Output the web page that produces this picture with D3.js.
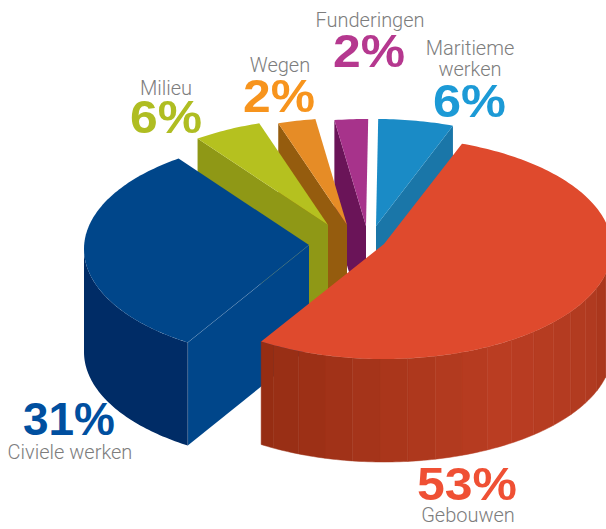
<!DOCTYPE html>
<html>
<head>
<meta charset="utf-8">
<script src="https://cdn.jsdelivr.net/npm/d3@7"></script>
<style>
html,body{margin:0;padding:0;background:#fff}
svg{display:block}
text{font-family:"Liberation Sans",Arial,sans-serif}
text.name{font-family:Roboto,"Liberation Sans",sans-serif;font-weight:300}
</style>
</head>
<body>
<div id="chart"></div>
<script>
// Data: slice order runs clockwise from the Gebouwen start edge
const categories = ["Gebouwen", "Civiele werken", "Milieu", "Wegen", "Funderingen", "Maritieme werken"];
const percentLabels = [53, 31, 6, 2, 2, 6];
// sweep of each slice as drawn (percent of the circle)
const drawnShares = [53.5, 31.1, 4.9, 2.7, 2.4, 5.4];
const topColors  = ["#df4a2d", "#00468a", "#b5c11f", "#e68c26", "#a7338b", "#1a8bc6"];
const faceColors = ["#a63517", "#00468a", "#8f9816", "#955c0e", "#6a1458", "#1a76a8"];
const wallColors = ["#b93c22", "#002c66", "#8f9816", "#955c0e", "#6a1458", "#1a76a8"];
const textColors = ["#ef5034", "#004f9f", "#afbd22", "#f7941d", "#b5388f", "#1c9ad6"];

// Layout (not data)
const W = 606, H = 529;
const RX = [228, 225, 225, 225, 225, 225];
const RY = 111, DEPTH = 103, APEX_LIFT = 4;
const centers = [[384,248],[309,249],[328,229],[347,229],[366,230],[376,230]];
const START_DEG = 20;
const NAME_SIZE = 20, PCT_SIZE = 47;
const labelPos = [
  {pct:[467,500], w:100, name:[["Gebouwen",468,522]]},
  {pct:[69,435],  w:92,  name:[["Civiele werken",70,459]]},
  {pct:[166,133], w:72,  name:[["Milieu",166,95]]},
  {pct:[279,112], w:72,  name:[["Wegen",280,72]]},
  {pct:[369,67],  w:72,  name:[["Funderingen",370,27]]},
  {pct:[469.5,117], w:73, name:[["Maritieme",470,55],["werken",470,76]]}
];

const rad = d => d * Math.PI / 180;
const pie = d3.pie().sort(null).value(d => d)
  .startAngle(rad(START_DEG)).endAngle(rad(START_DEG + 360));
const arcs = pie(drawnShares);

const svg = d3.select("#chart").append("svg").attr("width", W).attr("height", H);
const line = d3.line();

function project(i, t, dz) {
  const [cx, cy] = centers[i];
  return [cx + RX[i] * Math.sin(t), cy - RY * Math.cos(t) + (dz || 0)];
}
function apex(i, dz) {
  const [cx, cy] = centers[i];
  return [cx, cy - APEX_LIFT + (dz || 0)];
}
function arcPts(i, a, b, dz) {
  const n = Math.max(2, Math.ceil(Math.abs(b - a) / rad(1)));
  return d3.range(n + 1).map(k => project(i, a + (b - a) * k / n, dz));
}
const poly = pts => line(pts) + "Z";

// red wall banding along the rim
const redShade = d3.scaleLinear()
  .domain([rad(95), rad(115), rad(150), rad(212)])
  .range(["#a33317", "#b03a20", "#ba3d22", "#952d13"]);

// paint back to front
[5, 4, 3, 2, 1, 0].forEach(i => {
  const g = svg.append("g");
  const t0 = arcs[i].startAngle, t1 = arcs[i].endAngle;

  // cut faces
  if (Math.sin(t0) < -0.01) {
    const p = project(i, t0);
    g.append("path")
      .attr("d", poly([p, apex(i), apex(i, DEPTH), project(i, t0, DEPTH)]))
      .attr("fill", faceColors[i]);
  }
  if (Math.sin(t1) > 0.05) {
    const p = project(i, t1);
    g.append("path")
      .attr("d", poly([p, apex(i), apex(i, DEPTH), project(i, t1, DEPTH)]))
      .attr("fill", faceColors[i]);
  }

  // outer wall: the part of the rim facing the viewer
  const a = Math.max(t0, rad(90)), b = Math.min(t1, rad(270));
  if (b > a) {
    if (i === 0) {
      const step = rad(7);
      d3.range(a, b, step).forEach(s => {
        const e = Math.min(s + step, b);
        g.append("path")
          .attr("d", poly(arcPts(i, s, e).concat(arcPts(i, e, s, DEPTH))))
          .attr("fill", redShade((s + e) / 2))
          .attr("stroke", redShade((s + e) / 2))
          .attr("stroke-width", 0.5);
      });
    } else {
      g.append("path")
        .attr("d", poly(arcPts(i, a, b).concat(arcPts(i, b, a, DEPTH))))
        .attr("fill", wallColors[i]);
    }
  }

  // top surface
  g.append("path")
    .attr("d", poly([apex(i)].concat(arcPts(i, t0, t1))))
    .attr("fill", topColors[i]);

  // fine seams
  if (i === 1) {
    g.append("path")
      .attr("d", line([apex(i), project(i, t0), project(i, t0, DEPTH)]))
      .attr("fill", "none").attr("stroke", "#fff")
      .attr("stroke-opacity", 0.22).attr("stroke-width", 0.6);
  }
});

// labels
categories.forEach((c, i) => {
  const lp = labelPos[i];
  svg.append("text")
    .attr("x", lp.pct[0]).attr("y", lp.pct[1])
    .attr("text-anchor", "middle")
    .attr("font-size", PCT_SIZE).attr("font-weight", 700)
    .attr("textLength", lp.w).attr("lengthAdjust", "spacingAndGlyphs")
    .attr("fill", textColors[i])
    .text(percentLabels[i] + "%");
  lp.name.forEach(n => {
    svg.append("text")
      .attr("class", "name")
      .attr("x", n[1]).attr("y", n[2])
      .attr("text-anchor", "middle")
      .attr("font-size", NAME_SIZE)
      .attr("fill", "#7d7d7d")
      .text(n[0]);
  });
});
</script>
</body>
</html>
